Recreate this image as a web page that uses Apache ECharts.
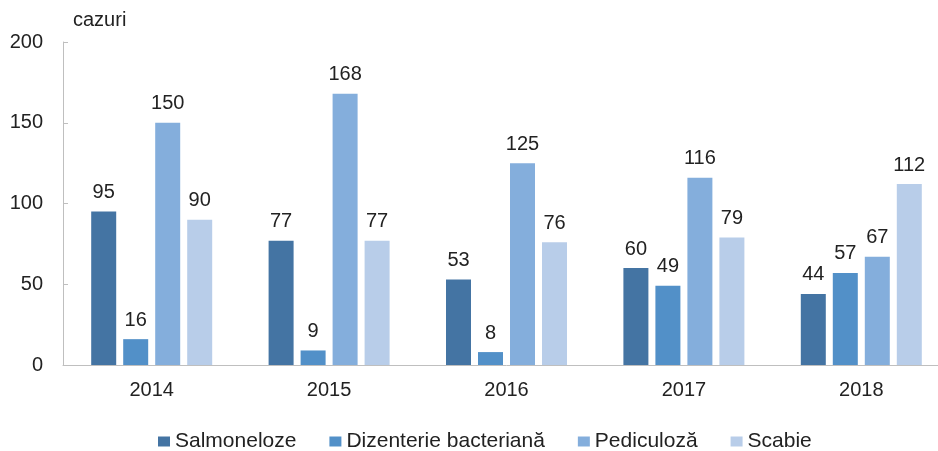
<!DOCTYPE html>
<html>
<head>
<meta charset="utf-8">
<script src="https://cdn.jsdelivr.net/npm/echarts@6/dist/echarts.min.js"></script>
<style>
  html, body { margin: 0; padding: 0; background: #fff; overflow: hidden; }
  #main { width: 950px; height: 451px; }
</style>
</head>
<body>
<div id="main"></div>
<script>
// date
var years = ['2014', '2015', '2016', '2017', '2018'];
var salmoneloze = [95, 77, 53, 60, 44];
var dizenterie = [16, 9, 8, 49, 57];
var pediculoza = [150, 168, 125, 116, 67];
var scabie = [90, 77, 76, 79, 112];
var seriesNames = ['Salmoneloze', 'Dizenterie bacteriană', 'Pediculoză', 'Scabie'];
var colors = ['#4474a3', '#5290c8', '#84aedc', '#b8cde9'];

var font = 'Liberation Sans, Arial, sans-serif';

var myChart = echarts.init(document.getElementById('main'));

function barSeries(name, data, color) {
    return {
        name: name,
        type: 'bar',
        data: data,
        barWidth: 25,
        barGap: '28%',
        itemStyle: { color: color },
        label: {
            show: true,
            position: 'top',
            distance: 9,
            color: '#222',
            fontFamily: font,
            fontSize: 20
        }
    };
}

myChart.setOption({
    animation: false,
    textStyle: { fontFamily: font },
    color: colors,
    grid: {
        left: 63,
        top: 42,
        right: 0,
        bottom: 86,
        containLabel: false
    },
    legend: {
        top: 426,
        left: 153,
        icon: 'rect',
        itemWidth: 12,
        itemHeight: 10,
        itemGap: 33,
        textStyle: { color: '#222', fontSize: 21, fontFamily: font },
        data: seriesNames
    },
    xAxis: {
        type: 'category',
        data: years,
        axisLine: { lineStyle: { color: '#bfbfbf', width: 1 } },
        axisTick: { show: false },
        axisLabel: { color: '#222', fontSize: 20, margin: 15, fontFamily: font }
    },
    yAxis: {
        type: 'value',
        min: 0,
        max: 200,
        interval: 50,
        name: 'cazuri',
        nameLocation: 'end',
        nameGap: 12,
        nameTextStyle: { color: '#222', fontSize: 20, align: 'left', padding: [0, 0, 0, 10] },
        axisLine: { show: true, lineStyle: { color: '#bfbfbf', width: 1 } },
        axisTick: { show: true, inside: true, length: 5, lineStyle: { color: '#bfbfbf' } },
        splitLine: { show: false },
        axisLabel: { color: '#222', fontSize: 20, margin: 20, fontFamily: font }
    },
    series: [
        barSeries(seriesNames[0], salmoneloze, colors[0]),
        barSeries(seriesNames[1], dizenterie, colors[1]),
        barSeries(seriesNames[2], pediculoza, colors[2]),
        barSeries(seriesNames[3], scabie, colors[3])
    ]
});
</script>
</body>
</html>
